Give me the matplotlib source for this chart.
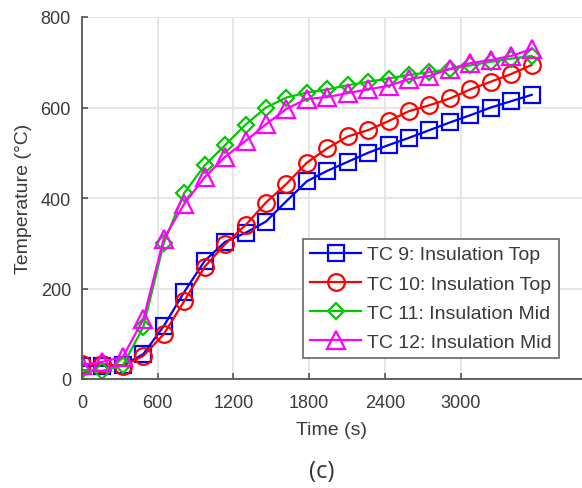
import matplotlib.pyplot as plt

# Dados
tempo = [0, 162, 324, 486, 648, 810, 972, 1134, 1296, 1458, 1620, 1782,
         1944, 2106, 2268, 2430, 2592, 2754, 2916, 3078, 3240, 3402, 3564]
tc9 = [29, 29, 30, 55, 117, 192, 261, 303, 323, 348, 393, 437,
       460, 480, 500, 517, 533, 550, 567, 583, 600, 614, 628]
tc10 = [33, 33, 29, 51, 99, 172, 248, 298, 340, 390, 431, 478,
        510, 536, 550, 570, 592, 605, 620, 640, 657, 674, 694]
tc11 = [20, 18, 30, 115, 300, 411, 472, 517, 562, 600, 622, 633,
        640, 649, 657, 664, 672, 678, 685, 693, 701, 708, 714]
tc12 = [31, 38, 49, 132, 310, 387, 446, 491, 526, 563, 597, 619,
        623, 632, 640, 648, 663, 670, 685, 698, 705, 714, 729]

rotulos = ['TC 9: Insulation Top', 'TC 10: Insulation Top',
           'TC 11: Insulation Mid', 'TC 12: Insulation Mid']
cores = ['#0000ff', '#ff0000', '#00c800', '#ff00ff']

plt.rcParams['font.family'] = ['Liberation Sans', 'DejaVu Sans']
cinza = '#3a3a3a'

fig = plt.figure(figsize=(5.82, 4.89), dpi=100)
ax = fig.add_axes([82 / 582, 109 / 489, 500 / 582, 362 / 489])

estilo = dict(lw=1.6, mfc='none', mew=1.6)
ax.plot(tempo, tc9, marker='s', ms=11, color=cores[0], label=rotulos[0], **estilo)
ax.plot(tempo, tc10, marker='o', ms=12, color=cores[1], label=rotulos[1], **estilo)
ax.plot(tempo, tc11, marker='D', ms=8.5, color=cores[2], label=rotulos[2], **estilo)
ax.plot(tempo, tc12, marker='^', ms=13, color=cores[3], label=rotulos[3], **estilo)

ax.set_xlim(0, 3963)
ax.set_ylim(0, 800)
ax.set_xticks([0, 600, 1200, 1800, 2400, 3000])
ax.set_yticks([0, 200, 400, 600, 800])
ax.grid(True, color='#e2e2e2', lw=1.2)
ax.set_axisbelow(True)
for lado in ['top', 'right']:
    ax.spines[lado].set_visible(False)
for lado in ['left', 'bottom']:
    ax.spines[lado].set_color('#555555')
    ax.spines[lado].set_linewidth(1.3)
ax.tick_params(axis='both', direction='in', length=4, width=1.2,
               color='#555555', labelcolor=cinza, labelsize=13)
ax.tick_params(axis='x', pad=11)
ax.tick_params(axis='y', pad=8)

ax.set_xlabel('Time (s)', fontsize=14, color=cinza, labelpad=7)
ax.set_ylabel('Temperature (\u00b0C)', fontsize=14, color=cinza, labelpad=6)

leg = fig.legend(loc='upper left', bbox_to_anchor=(303 / 582, 1 - 240 / 489),
                 fontsize=14, handlelength=2.65, handletextpad=0.3,
                 labelspacing=0.6, borderpad=0.35, borderaxespad=0,
                 fancybox=False, framealpha=1, edgecolor='#666666',
                 labelcolor=cinza)
leg.get_frame().set_linewidth(1.2)

fig.text(322 / 582, 1 - 472 / 489, '(c)', fontsize=17, color='#333333',
         ha='center', va='center', family=['Open Sans', 'DejaVu Sans'])

fig.savefig('out.png', dpi=100)
